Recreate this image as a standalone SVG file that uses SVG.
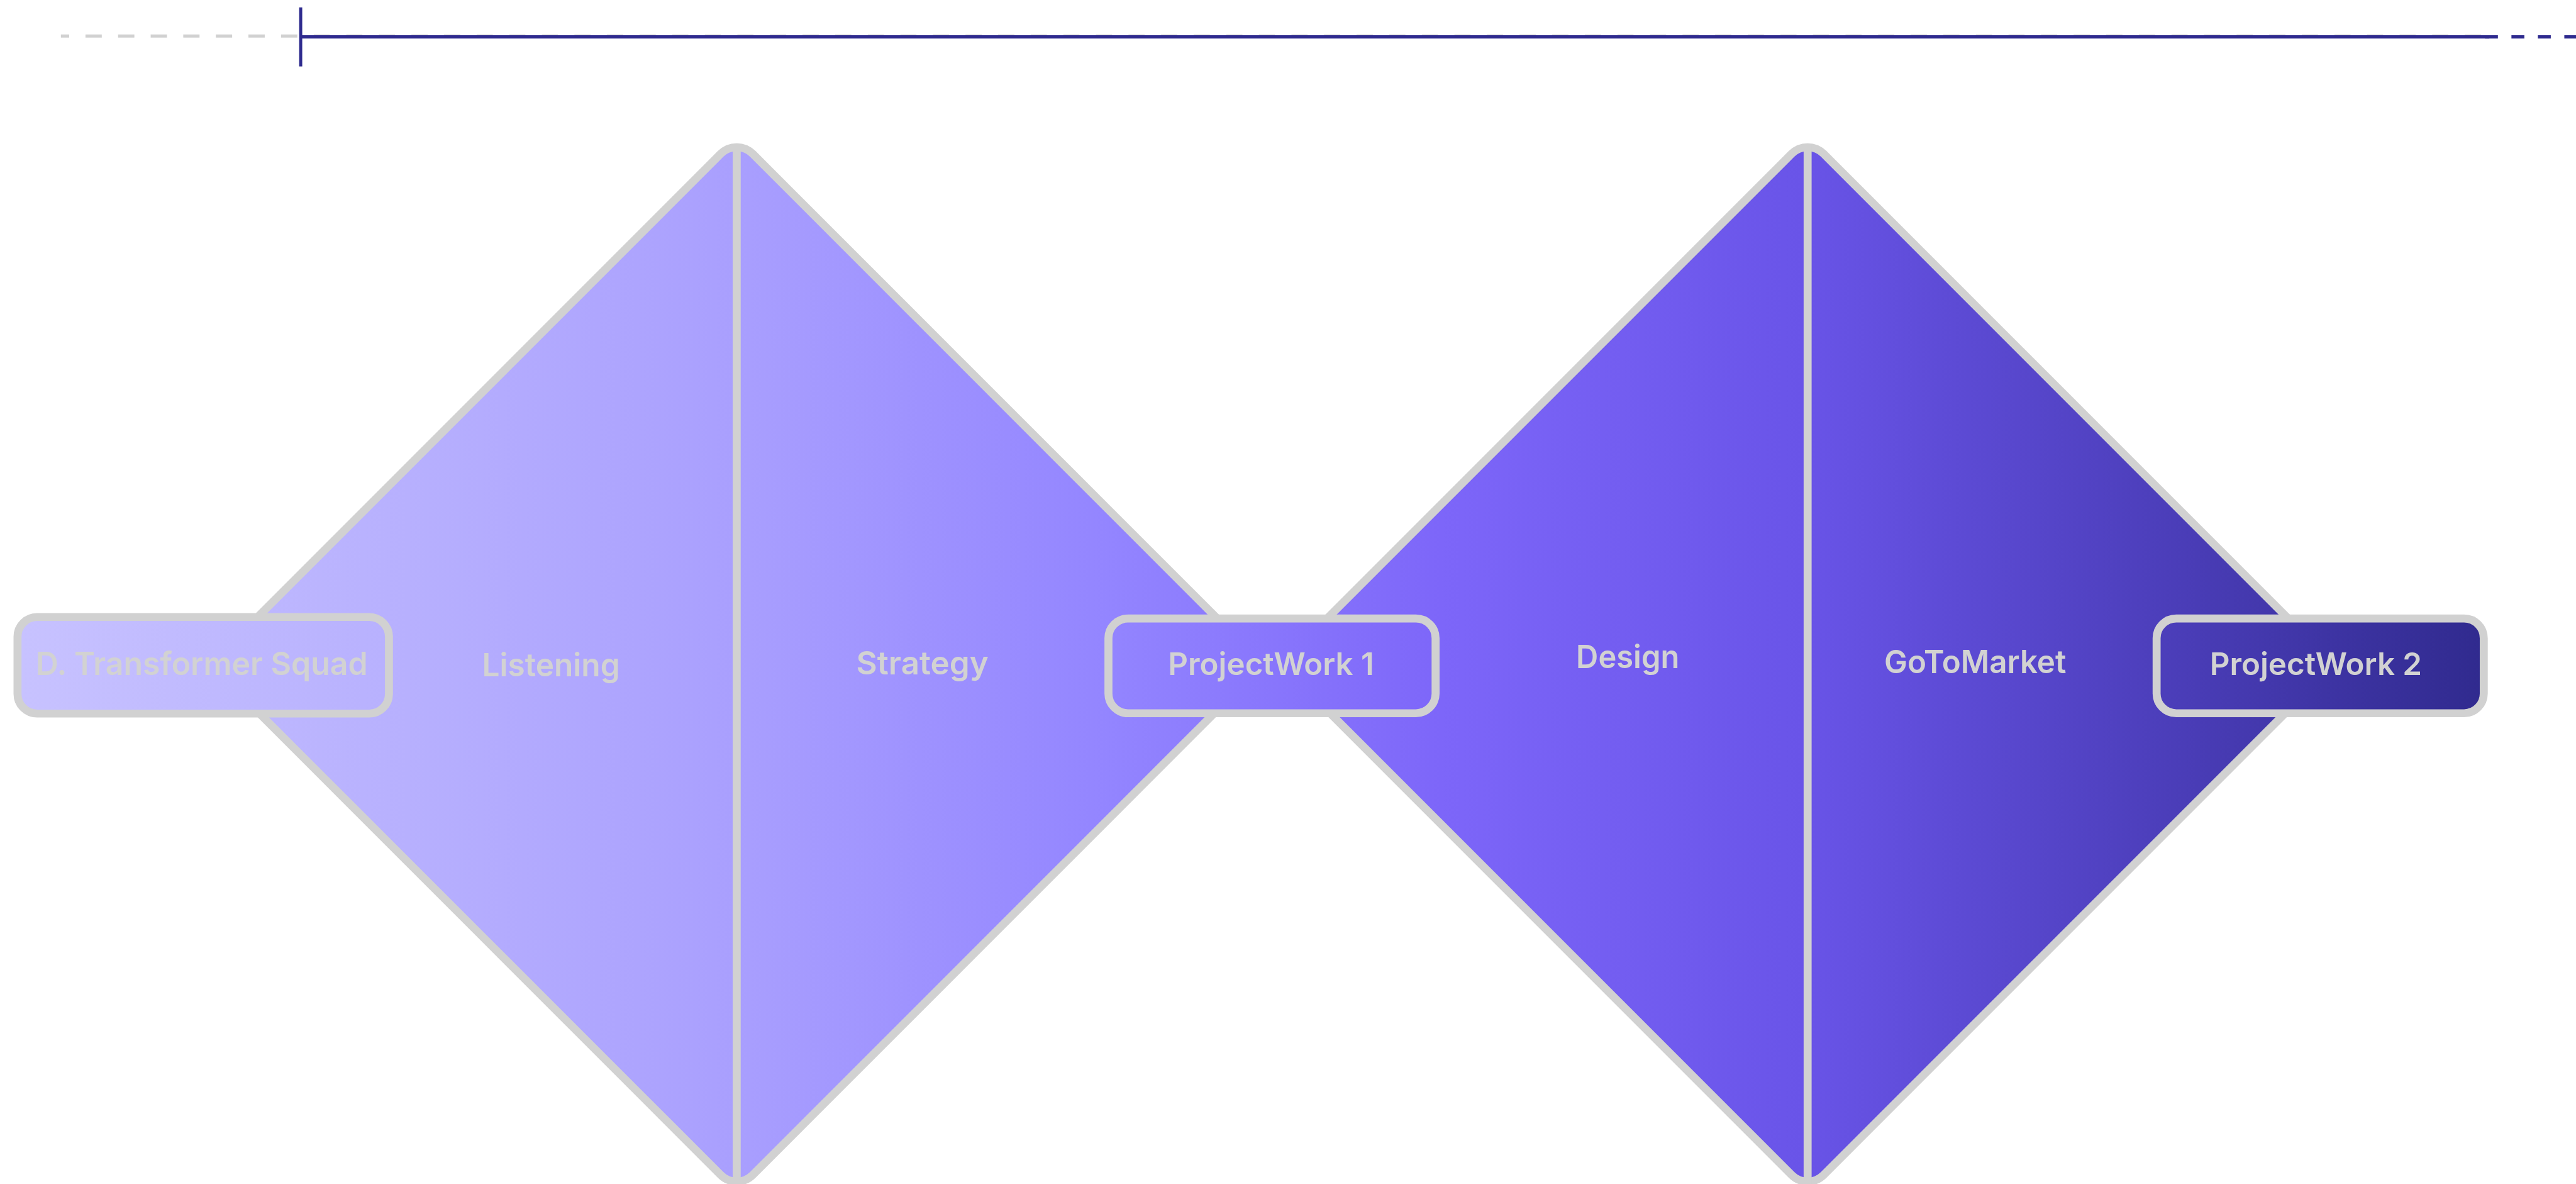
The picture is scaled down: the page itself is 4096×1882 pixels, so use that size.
<svg xmlns="http://www.w3.org/2000/svg" width="4096" height="1882" viewBox="0 0 4096 1882">
  <defs>
    <linearGradient id="flow" gradientUnits="userSpaceOnUse" x1="0" y1="0" x2="4189" y2="0">
      <stop offset="0" stop-color="#c8c3ff"/>
      <stop offset="0.15" stop-color="#b8b1fe"/>
      <stop offset="0.285" stop-color="#a99ffe"/>
      <stop offset="0.43" stop-color="#9385ff"/>
      <stop offset="0.56" stop-color="#7d66f9"/>
      <stop offset="0.70" stop-color="#6954e8"/>
      <stop offset="0.835" stop-color="#4d3fbc"/>
      <stop offset="0.965" stop-color="#302a8e"/>
      <stop offset="1" stop-color="#2e2890"/>
    </linearGradient>
    <style>
      .shape { fill: url(#flow); stroke: #d1d1d1; stroke-width: 13; stroke-linejoin: round; }
      .divider { stroke: #d1d1d1; stroke-width: 13; fill: none; }
      .lbl { font-family: Inter, "Liberation Sans", Arial, sans-serif; font-size: 52px; font-weight: 600; fill: #d2d2d2; text-anchor: middle; }
      .pw { font-family: Inter, "Liberation Sans", sans-serif; font-size: 51px; font-weight: 600; fill: #d2d2d2; text-anchor: middle; }
      .blue { stroke: #2e2a8e; fill: none; }
    </style>
  </defs>
  <g transform="scale(0.9778)">
    <g id="timeline">
      <line x1="99" y1="58.5" x2="4048" y2="58.5" stroke="#d1d1d1" stroke-width="5" stroke-dasharray="26.5 26.5" stroke-dashoffset="13"/>
      <line class="blue" x1="489" y1="60" x2="4048" y2="60" stroke-width="5.3"/>
      <line class="blue" x1="4041" y1="60" x2="4189" y2="60" stroke-width="5.3" stroke-dasharray="21 22"/>
      <line class="blue" x1="489" y1="12" x2="489" y2="108" stroke-width="5"/>
    </g>
    <g id="diamond-1">
      <path class="shape" d="M1224.16,250.16 L2027.84,1053.84 A37,37 0 0 1 2027.84,1106.16 L1224.16,1909.84 A37,37 0 0 1 1171.84,1909.84 L368.16,1106.16 A37,37 0 0 1 368.16,1053.84 L1171.84,250.16 A37,37 0 0 1 1224.16,250.16 Z"/>
      <line class="divider" x1="1198" y1="236" x2="1198" y2="1925"/>
    </g>
    <g id="diamond-2">
      <path class="shape" d="M2965.66,250.16 L3769.34,1053.84 A37,37 0 0 1 3769.34,1106.16 L2965.66,1909.84 A37,37 0 0 1 2913.34,1909.84 L2109.66,1106.16 A37,37 0 0 1 2109.66,1053.84 L2913.34,250.16 A37,37 0 0 1 2965.66,250.16 Z"/>
      <line class="divider" x1="2939.5" y1="236" x2="2939.5" y2="1925"/>
    </g>
    <g id="node-listening">
      <text class="lbl" x="896" y="1099" textLength="224" lengthAdjust="spacingAndGlyphs">Listening</text>
    </g>
    <g id="node-strategy">
      <text class="lbl" x="1500" y="1096" textLength="215" lengthAdjust="spacingAndGlyphs">Strategy</text>
    </g>
    <g id="node-design">
      <text class="lbl" x="2647" y="1086" textLength="168" lengthAdjust="spacingAndGlyphs">Design</text>
    </g>
    <g id="node-gotomarket">
      <text class="lbl" x="3212" y="1094" textLength="296" lengthAdjust="spacingAndGlyphs">GoToMarket</text>
    </g>
    <g id="node-squad">
      <rect class="shape" x="28.5" y="1003" width="604" height="157" rx="32" ry="32"/>
      <text class="lbl" x="328" y="1097" textLength="540" lengthAdjust="spacingAndGlyphs">D. Transformer Squad</text>
    </g>
    <g id="node-projectwork-1">
      <rect class="shape" x="1802.5" y="1005.5" width="532" height="154" rx="32" ry="32"/>
      <text class="pw" x="2067" y="1097" textLength="335" lengthAdjust="spacingAndGlyphs">ProjectWork 1</text>
    </g>
    <g id="node-projectwork-2">
      <rect class="shape" x="3507" y="1005.5" width="532" height="154" rx="32" ry="32"/>
      <text class="pw" x="3766" y="1097" textLength="345" lengthAdjust="spacingAndGlyphs">ProjectWork 2</text>
    </g>
  </g>
</svg>
